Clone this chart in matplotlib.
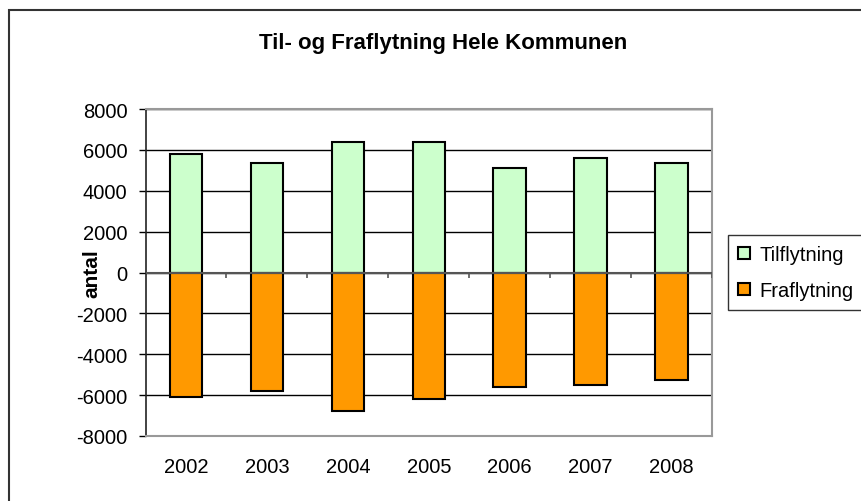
import numpy as np
import matplotlib.pyplot as plt
from matplotlib.patches import Rectangle

plt.rcParams['font.family'] = ['Liberation Sans', 'DejaVu Sans']
plt.rcParams['axes.unicode_minus'] = False

years = ['2002', '2003', '2004', '2005', '2006', '2007', '2008']
tilflytning = [5820, 5340, 6370, 6380, 5130, 5620, 5340]
fraflytning = [-6080, -5800, -6780, -6180, -5600, -5520, -5250]

fig = plt.figure(figsize=(8.61, 5.02), dpi=100)
fig.patches.append(Rectangle((8.5/861, -0.1), 1.0, 1.1 - 11/502, transform=fig.transFigure,
                             fill=False, edgecolor='#333333', linewidth=1.5))

ax = fig.add_axes([145.5/861, 1 - 437/502, (712 - 145.5)/861, (437 - 110)/502])
x = np.arange(len(years))
ax.bar(x, tilflytning, width=0.4, color='#CCFFCC', edgecolor='black', linewidth=1.5,
       label='Tilflytning', zorder=3)
ax.bar(x, fraflytning, width=0.4, color='#FF9900', edgecolor='black', linewidth=1.5,
       label='Fraflytning', zorder=3)

ax.set_xlim(-0.5, len(years) - 0.5)
ax.set_ylim(-8000, 8000)
ax.set_yticks(np.arange(-8000, 8001, 2000))
ax.set_xticks(x)
ax.set_xticklabels(years)
ax.tick_params(axis='x', length=0, pad=15, labelsize=14.5)
ax.tick_params(axis='y', length=5, width=1, direction='out', pad=8, labelsize=14.5)
ax.yaxis.grid(True, color='black', linewidth=1)
ax.set_axisbelow(True)

# zero axis with category tick marks
ax.axhline(0, color='#555555', linewidth=1.5, zorder=4)
bounds = np.arange(0.5, len(years) - 0.5 + 0.01, 1.0)
ax.vlines(bounds, -260, 0, color='#555555', linewidth=1.2, zorder=4)

for s in ['top', 'right', 'bottom']:
    ax.spines[s].set_color('#999999')
    ax.spines[s].set_linewidth(1.5)
ax.spines['left'].set_color('#222222')
ax.spines['left'].set_linewidth(1.2)

ax.set_ylabel('antal', fontsize=15, fontweight='bold')
ax.yaxis.set_label_coords(-0.078, 0.5)
fig.text(443/861, 1 - 43/502, 'Til- og Fraflytning Hele Kommunen', ha='center', va='center',
         fontsize=16, fontweight='bold')

leg = fig.legend(loc='upper left', bbox_to_anchor=(728/861, 1 - 236/502), fontsize=14.5,
                 frameon=True, fancybox=False, edgecolor='black', handlelength=0.6,
                 handleheight=0.6, handletextpad=0.45, labelspacing=0.85, borderpad=0.5,
                 borderaxespad=0)
leg.get_frame().set_linewidth(1)

fig.savefig('out.png', dpi=100)
